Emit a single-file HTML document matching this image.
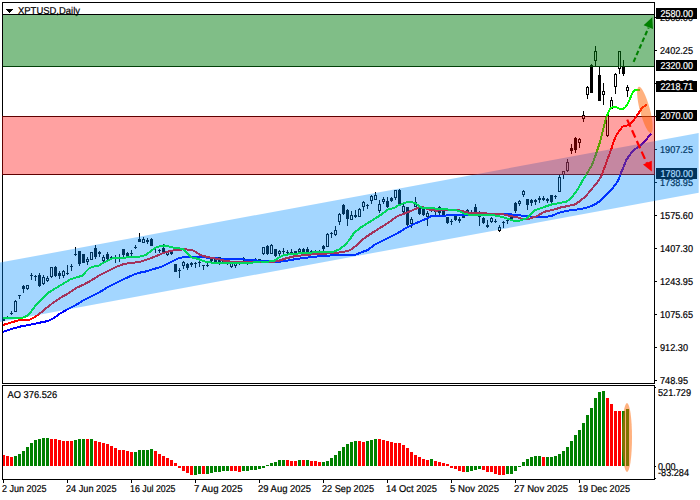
<!DOCTYPE html>
<html><head><meta charset="utf-8"><title>XPTUSD Daily</title>
<style>html,body{margin:0;padding:0;background:#fff;overflow:hidden}svg{display:block}text{font-family:"Liberation Sans",sans-serif;font-size:10px;text-rendering:geometricPrecision}</style>
</head><body>
<svg width="700" height="500" viewBox="0 0 700 500">
<defs><clipPath id="cm"><rect x="3" y="3" width="651" height="380"/></clipPath><clipPath id="ca"><rect x="3" y="386" width="651" height="93"/></clipPath></defs>
<rect width="700" height="500" fill="#fff"/>
<g shape-rendering="crispEdges" fill="#000">
<rect x="2" y="2" width="653" height="1"/>
<rect x="2" y="2" width="1" height="382"/>
<rect x="2" y="383" width="653" height="1"/>
<rect x="654" y="2" width="1" height="382"/>
<rect x="654" y="385" width="1" height="95"/>
<rect x="2" y="385" width="653" height="1"/>
<rect x="2" y="385" width="1" height="95"/>
<rect x="2" y="479" width="653" height="1"/>
<rect x="655" y="50" width="2" height="1"/>
<rect x="655" y="149" width="2" height="1"/>
<rect x="655" y="182" width="2" height="1"/>
<rect x="655" y="215" width="2" height="1"/>
<rect x="655" y="248" width="2" height="1"/>
<rect x="655" y="281" width="2" height="1"/>
<rect x="655" y="314" width="2" height="1"/>
<rect x="655" y="347" width="2" height="1"/>
<rect x="655" y="380" width="2" height="1"/>
<rect x="655" y="17" width="2" height="1"/>
<rect x="655" y="83" width="2" height="1"/>
<rect x="655" y="116" width="2" height="1"/>
<rect x="655" y="387" width="1" height="1"/>
<rect x="655" y="466" width="1" height="1"/>
<rect x="655" y="478" width="1" height="1"/>
<rect x="3" y="480" width="1" height="3"/>
<rect x="67" y="480" width="1" height="3"/>
<rect x="131" y="480" width="1" height="3"/>
<rect x="195" y="480" width="1" height="3"/>
<rect x="259" y="480" width="1" height="3"/>
<rect x="323" y="480" width="1" height="3"/>
<rect x="387" y="480" width="1" height="3"/>
<rect x="451" y="480" width="1" height="3"/>
<rect x="515" y="480" width="1" height="3"/>
<rect x="579" y="480" width="1" height="3"/>
</g>
<g>
<path d="M6 9h7v1h-1v1h-1v1h-1v1h-1v-1h-1v-1h-1v-1h-1z" fill="#000" shape-rendering="crispEdges"/>
<text x="18" y="14" textLength="62" lengthAdjust="spacingAndGlyphs" fill="#000" stroke="#000" stroke-width="0.2">XPTUSD,Daily</text>
<text x="7.6" y="398" textLength="49.6" lengthAdjust="spacingAndGlyphs" fill="#000" stroke="#000" stroke-width="0.2">AO 376.526</text>
<text x="660" y="54" textLength="33" lengthAdjust="spacingAndGlyphs" fill="#000" stroke="#000" stroke-width="0.2">2402.25</text>
<text x="660" y="153" textLength="33" lengthAdjust="spacingAndGlyphs" fill="#000" stroke="#000" stroke-width="0.2">1907.25</text>
<text x="660" y="186" textLength="33" lengthAdjust="spacingAndGlyphs" fill="#000" stroke="#000" stroke-width="0.2">1738.95</text>
<text x="660" y="219" textLength="33" lengthAdjust="spacingAndGlyphs" fill="#000" stroke="#000" stroke-width="0.2">1575.60</text>
<text x="660" y="252" textLength="33" lengthAdjust="spacingAndGlyphs" fill="#000" stroke="#000" stroke-width="0.2">1407.30</text>
<text x="660" y="285" textLength="33" lengthAdjust="spacingAndGlyphs" fill="#000" stroke="#000" stroke-width="0.2">1243.95</text>
<text x="660" y="318" textLength="33" lengthAdjust="spacingAndGlyphs" fill="#000" stroke="#000" stroke-width="0.2">1075.65</text>
<text x="660" y="351" textLength="28" lengthAdjust="spacingAndGlyphs" fill="#000" stroke="#000" stroke-width="0.2">912.30</text>
<text x="660" y="384" textLength="28" lengthAdjust="spacingAndGlyphs" fill="#000" stroke="#000" stroke-width="0.2">748.95</text>
<text x="660" y="21" textLength="33" lengthAdjust="spacingAndGlyphs" fill="#000" stroke="#000" stroke-width="0.2">2565.60</text>
<text x="660" y="87" textLength="33" lengthAdjust="spacingAndGlyphs" fill="#000" stroke="#000" stroke-width="0.2">2233.95</text>
<text x="658" y="396" textLength="33" lengthAdjust="spacingAndGlyphs" fill="#000" stroke="#000" stroke-width="0.2">521.729</text>
<text x="658" y="469.5" textLength="17.5" lengthAdjust="spacingAndGlyphs" fill="#000" stroke="#000" stroke-width="0.2">0.00</text>
<text x="658" y="476" textLength="31" lengthAdjust="spacingAndGlyphs" fill="#000" stroke="#000" stroke-width="0.2">-83.284</text>
<text x="2" y="492" textLength="44.5" lengthAdjust="spacingAndGlyphs" fill="#000" stroke="#000" stroke-width="0.2">2 Jun 2025</text>
<text x="66" y="492" textLength="50.5" lengthAdjust="spacingAndGlyphs" fill="#000" stroke="#000" stroke-width="0.2">24 Jun 2025</text>
<text x="130" y="492" textLength="45.5" lengthAdjust="spacingAndGlyphs" fill="#000" stroke="#000" stroke-width="0.2">16 Jul 2025</text>
<text x="194" y="492" textLength="48.5" lengthAdjust="spacingAndGlyphs" fill="#000" stroke="#000" stroke-width="0.2">7 Aug 2025</text>
<text x="258" y="492" textLength="53" lengthAdjust="spacingAndGlyphs" fill="#000" stroke="#000" stroke-width="0.2">29 Aug 2025</text>
<text x="322" y="492" textLength="52" lengthAdjust="spacingAndGlyphs" fill="#000" stroke="#000" stroke-width="0.2">22 Sep 2025</text>
<text x="386" y="492" textLength="51" lengthAdjust="spacingAndGlyphs" fill="#000" stroke="#000" stroke-width="0.2">14 Oct 2025</text>
<text x="450" y="492" textLength="49" lengthAdjust="spacingAndGlyphs" fill="#000" stroke="#000" stroke-width="0.2">5 Nov 2025</text>
<text x="514" y="492" textLength="54" lengthAdjust="spacingAndGlyphs" fill="#000" stroke="#000" stroke-width="0.2">27 Nov 2025</text>
<text x="578" y="492" textLength="52" lengthAdjust="spacingAndGlyphs" fill="#000" stroke="#000" stroke-width="0.2">19 Dec 2025</text>
</g>
<g shape-rendering="crispEdges">
<rect x="656" y="8" width="41" height="11" fill="#000"/>
<rect x="656" y="60" width="41" height="11" fill="#000"/>
<rect x="656" y="81" width="41" height="11" fill="#000"/>
<rect x="656" y="110" width="41" height="11" fill="#000"/>
<rect x="656" y="168" width="41" height="11" fill="#000"/>
</g>
<text x="660.5" y="17" textLength="32.5" lengthAdjust="spacingAndGlyphs" fill="#fff" stroke="#fff" stroke-width="0.2">2580.00</text>
<text x="660.5" y="69" textLength="32.5" lengthAdjust="spacingAndGlyphs" fill="#fff" stroke="#fff" stroke-width="0.2">2320.00</text>
<text x="660.5" y="90" textLength="32.5" lengthAdjust="spacingAndGlyphs" fill="#fff" stroke="#fff" stroke-width="0.2">2218.71</text>
<text x="660.5" y="119" textLength="32.5" lengthAdjust="spacingAndGlyphs" fill="#fff" stroke="#fff" stroke-width="0.2">2070.00</text>
<text x="660.5" y="177" textLength="32.5" lengthAdjust="spacingAndGlyphs" fill="#fff" stroke="#fff" stroke-width="0.2">1780.00</text>
<g shape-rendering="crispEdges" clip-path="url(#ca)">
<rect x="2" y="455" width="3" height="11" fill="#ff0000"/>
<rect x="6" y="456" width="3" height="10" fill="#ff0000"/>
<rect x="10" y="457" width="3" height="9" fill="#ff0000"/>
<rect x="14" y="456" width="3" height="10" fill="#008000"/>
<rect x="18" y="454" width="3" height="12" fill="#008000"/>
<rect x="22" y="451" width="3" height="15" fill="#008000"/>
<rect x="26" y="447" width="3" height="19" fill="#008000"/>
<rect x="30" y="443" width="3" height="23" fill="#008000"/>
<rect x="34" y="440" width="3" height="26" fill="#008000"/>
<rect x="38" y="439" width="3" height="27" fill="#008000"/>
<rect x="42" y="438" width="3" height="28" fill="#008000"/>
<rect x="46" y="438" width="3" height="28" fill="#008000"/>
<rect x="50" y="439" width="3" height="27" fill="#ff0000"/>
<rect x="54" y="439" width="3" height="27" fill="#ff0000"/>
<rect x="58" y="440" width="3" height="26" fill="#ff0000"/>
<rect x="62" y="441" width="3" height="25" fill="#ff0000"/>
<rect x="66" y="441" width="3" height="25" fill="#ff0000"/>
<rect x="70" y="441" width="3" height="25" fill="#ff0000"/>
<rect x="74" y="440" width="3" height="26" fill="#008000"/>
<rect x="78" y="439" width="3" height="27" fill="#008000"/>
<rect x="82" y="439" width="3" height="27" fill="#008000"/>
<rect x="86" y="439" width="3" height="27" fill="#ff0000"/>
<rect x="90" y="439" width="3" height="27" fill="#008000"/>
<rect x="94" y="441" width="3" height="25" fill="#ff0000"/>
<rect x="98" y="442" width="3" height="24" fill="#ff0000"/>
<rect x="102" y="443" width="3" height="23" fill="#ff0000"/>
<rect x="106" y="444" width="3" height="22" fill="#ff0000"/>
<rect x="110" y="446" width="3" height="20" fill="#ff0000"/>
<rect x="114" y="448" width="3" height="18" fill="#ff0000"/>
<rect x="118" y="450" width="3" height="16" fill="#ff0000"/>
<rect x="122" y="450" width="3" height="16" fill="#ff0000"/>
<rect x="126" y="451" width="3" height="15" fill="#ff0000"/>
<rect x="130" y="452" width="3" height="14" fill="#ff0000"/>
<rect x="134" y="452" width="3" height="14" fill="#008000"/>
<rect x="138" y="450" width="3" height="16" fill="#008000"/>
<rect x="142" y="450" width="3" height="16" fill="#008000"/>
<rect x="146" y="450" width="3" height="16" fill="#008000"/>
<rect x="150" y="449" width="3" height="17" fill="#008000"/>
<rect x="154" y="451" width="3" height="15" fill="#ff0000"/>
<rect x="158" y="454" width="3" height="12" fill="#ff0000"/>
<rect x="162" y="456" width="3" height="10" fill="#ff0000"/>
<rect x="166" y="458" width="3" height="8" fill="#ff0000"/>
<rect x="170" y="460" width="3" height="6" fill="#ff0000"/>
<rect x="174" y="463" width="3" height="3" fill="#ff0000"/>
<rect x="178" y="466" width="3" height="2" fill="#ff0000"/>
<rect x="182" y="466" width="3" height="5" fill="#ff0000"/>
<rect x="186" y="466" width="3" height="7" fill="#ff0000"/>
<rect x="190" y="466" width="3" height="9" fill="#ff0000"/>
<rect x="194" y="466" width="3" height="9" fill="#008000"/>
<rect x="198" y="466" width="3" height="8" fill="#008000"/>
<rect x="202" y="466" width="3" height="8" fill="#ff0000"/>
<rect x="206" y="466" width="3" height="8" fill="#008000"/>
<rect x="210" y="466" width="3" height="7" fill="#008000"/>
<rect x="214" y="466" width="3" height="6" fill="#008000"/>
<rect x="218" y="466" width="3" height="6" fill="#008000"/>
<rect x="222" y="466" width="3" height="5" fill="#008000"/>
<rect x="226" y="466" width="3" height="5" fill="#008000"/>
<rect x="230" y="466" width="3" height="5" fill="#ff0000"/>
<rect x="234" y="466" width="3" height="5" fill="#ff0000"/>
<rect x="238" y="466" width="3" height="6" fill="#ff0000"/>
<rect x="242" y="466" width="3" height="5" fill="#008000"/>
<rect x="246" y="466" width="3" height="5" fill="#008000"/>
<rect x="250" y="466" width="3" height="4" fill="#008000"/>
<rect x="254" y="466" width="3" height="4" fill="#008000"/>
<rect x="258" y="466" width="3" height="3" fill="#008000"/>
<rect x="262" y="466" width="3" height="2" fill="#008000"/>
<rect x="266" y="465" width="3" height="1" fill="#008000"/>
<rect x="270" y="463" width="3" height="3" fill="#008000"/>
<rect x="274" y="462" width="3" height="4" fill="#008000"/>
<rect x="278" y="460" width="3" height="6" fill="#008000"/>
<rect x="282" y="460" width="3" height="6" fill="#008000"/>
<rect x="286" y="460" width="3" height="6" fill="#ff0000"/>
<rect x="290" y="461" width="3" height="5" fill="#ff0000"/>
<rect x="294" y="461" width="3" height="5" fill="#ff0000"/>
<rect x="298" y="460" width="3" height="6" fill="#008000"/>
<rect x="302" y="460" width="3" height="6" fill="#ff0000"/>
<rect x="306" y="460" width="3" height="6" fill="#008000"/>
<rect x="310" y="461" width="3" height="5" fill="#ff0000"/>
<rect x="314" y="461" width="3" height="5" fill="#ff0000"/>
<rect x="318" y="462" width="3" height="4" fill="#ff0000"/>
<rect x="322" y="462" width="3" height="4" fill="#008000"/>
<rect x="326" y="461" width="3" height="5" fill="#008000"/>
<rect x="330" y="458" width="3" height="8" fill="#008000"/>
<rect x="334" y="455" width="3" height="11" fill="#008000"/>
<rect x="338" y="451" width="3" height="15" fill="#008000"/>
<rect x="342" y="447" width="3" height="19" fill="#008000"/>
<rect x="346" y="444" width="3" height="22" fill="#008000"/>
<rect x="350" y="442" width="3" height="24" fill="#008000"/>
<rect x="354" y="441" width="3" height="25" fill="#008000"/>
<rect x="358" y="441" width="3" height="25" fill="#ff0000"/>
<rect x="362" y="442" width="3" height="24" fill="#ff0000"/>
<rect x="366" y="441" width="3" height="25" fill="#008000"/>
<rect x="370" y="440" width="3" height="26" fill="#008000"/>
<rect x="374" y="439" width="3" height="27" fill="#008000"/>
<rect x="378" y="439" width="3" height="27" fill="#ff0000"/>
<rect x="382" y="440" width="3" height="26" fill="#ff0000"/>
<rect x="386" y="441" width="3" height="25" fill="#ff0000"/>
<rect x="390" y="442" width="3" height="24" fill="#ff0000"/>
<rect x="394" y="443" width="3" height="23" fill="#ff0000"/>
<rect x="398" y="443" width="3" height="23" fill="#ff0000"/>
<rect x="402" y="445" width="3" height="21" fill="#ff0000"/>
<rect x="406" y="448" width="3" height="18" fill="#ff0000"/>
<rect x="410" y="452" width="3" height="14" fill="#ff0000"/>
<rect x="414" y="455" width="3" height="11" fill="#ff0000"/>
<rect x="418" y="457" width="3" height="9" fill="#ff0000"/>
<rect x="422" y="459" width="3" height="7" fill="#ff0000"/>
<rect x="426" y="460" width="3" height="6" fill="#ff0000"/>
<rect x="430" y="459" width="3" height="7" fill="#008000"/>
<rect x="434" y="461" width="3" height="5" fill="#ff0000"/>
<rect x="438" y="462" width="3" height="4" fill="#ff0000"/>
<rect x="442" y="463" width="3" height="3" fill="#ff0000"/>
<rect x="446" y="464" width="3" height="2" fill="#ff0000"/>
<rect x="450" y="466" width="3" height="2" fill="#ff0000"/>
<rect x="454" y="466" width="3" height="3" fill="#ff0000"/>
<rect x="458" y="466" width="3" height="5" fill="#ff0000"/>
<rect x="462" y="466" width="3" height="6" fill="#ff0000"/>
<rect x="466" y="466" width="3" height="6" fill="#008000"/>
<rect x="470" y="466" width="3" height="5" fill="#008000"/>
<rect x="474" y="466" width="3" height="4" fill="#008000"/>
<rect x="478" y="466" width="3" height="3" fill="#008000"/>
<rect x="482" y="466" width="3" height="4" fill="#ff0000"/>
<rect x="486" y="466" width="3" height="6" fill="#ff0000"/>
<rect x="490" y="466" width="3" height="6" fill="#ff0000"/>
<rect x="494" y="466" width="3" height="8" fill="#ff0000"/>
<rect x="498" y="466" width="3" height="9" fill="#ff0000"/>
<rect x="502" y="466" width="3" height="9" fill="#ff0000"/>
<rect x="506" y="466" width="3" height="8" fill="#008000"/>
<rect x="510" y="466" width="3" height="8" fill="#008000"/>
<rect x="514" y="466" width="3" height="5" fill="#008000"/>
<rect x="518" y="466" width="3" height="1" fill="#008000"/>
<rect x="522" y="462" width="3" height="4" fill="#008000"/>
<rect x="526" y="459" width="3" height="7" fill="#008000"/>
<rect x="530" y="457" width="3" height="9" fill="#008000"/>
<rect x="534" y="456" width="3" height="10" fill="#008000"/>
<rect x="538" y="456" width="3" height="10" fill="#008000"/>
<rect x="542" y="457" width="3" height="9" fill="#ff0000"/>
<rect x="546" y="457" width="3" height="9" fill="#008000"/>
<rect x="550" y="457" width="3" height="9" fill="#008000"/>
<rect x="554" y="456" width="3" height="10" fill="#008000"/>
<rect x="558" y="454" width="3" height="12" fill="#008000"/>
<rect x="562" y="451" width="3" height="15" fill="#008000"/>
<rect x="566" y="447" width="3" height="19" fill="#008000"/>
<rect x="570" y="441" width="3" height="25" fill="#008000"/>
<rect x="574" y="435" width="3" height="31" fill="#008000"/>
<rect x="578" y="430" width="3" height="36" fill="#008000"/>
<rect x="582" y="423" width="3" height="43" fill="#008000"/>
<rect x="586" y="415" width="3" height="51" fill="#008000"/>
<rect x="590" y="408" width="3" height="58" fill="#008000"/>
<rect x="594" y="398" width="3" height="68" fill="#008000"/>
<rect x="598" y="392" width="3" height="74" fill="#008000"/>
<rect x="602" y="391" width="3" height="75" fill="#008000"/>
<rect x="606" y="398" width="3" height="68" fill="#ff0000"/>
<rect x="610" y="404" width="3" height="62" fill="#ff0000"/>
<rect x="614" y="411" width="3" height="55" fill="#ff0000"/>
<rect x="618" y="411" width="3" height="55" fill="#ff0000"/>
<rect x="622" y="411" width="3" height="55" fill="#008000"/>
<rect x="626" y="409" width="3" height="57" fill="#008000"/>
</g>
<g clip-path="url(#cm)">
<g shape-rendering="crispEdges" fill="#000">
<rect x="2" y="14" width="653" height="1"/>
<rect x="2" y="66" width="653" height="1"/>
<rect x="2" y="116" width="653" height="1"/>
<rect x="2" y="174" width="653" height="1"/>
</g>
<g shape-rendering="crispEdges">
<rect x="3" y="318" width="1" height="3" fill="#000"/>
<rect x="2" y="318" width="3" height="3" fill="#000"/>
<rect x="7" y="316" width="1" height="3" fill="#000"/>
<rect x="6" y="317" width="3" height="2" fill="#000"/>
<rect x="11" y="311" width="1" height="4" fill="#000"/>
<rect x="10" y="313" width="3" height="1" fill="#000"/>
<rect x="15" y="300" width="1" height="12" fill="#000"/>
<rect x="14" y="301" width="3" height="11" fill="#000"/>
<rect x="15" y="302" width="1" height="9" fill="#fff"/>
<rect x="19" y="295" width="1" height="4" fill="#000"/>
<rect x="18" y="295" width="3" height="1" fill="#000"/>
<rect x="23" y="285" width="1" height="8" fill="#000"/>
<rect x="22" y="286" width="3" height="3" fill="#000"/>
<rect x="27" y="285" width="1" height="5" fill="#000"/>
<rect x="26" y="285" width="3" height="4" fill="#000"/>
<rect x="27" y="286" width="1" height="2" fill="#fff"/>
<rect x="31" y="273" width="1" height="7" fill="#000"/>
<rect x="30" y="275" width="3" height="1" fill="#000"/>
<rect x="35" y="275" width="1" height="6" fill="#000"/>
<rect x="34" y="276" width="3" height="1" fill="#000"/>
<rect x="39" y="273" width="1" height="14" fill="#000"/>
<rect x="38" y="275" width="3" height="11" fill="#000"/>
<rect x="43" y="275" width="1" height="10" fill="#000"/>
<rect x="42" y="277" width="3" height="7" fill="#000"/>
<rect x="43" y="278" width="1" height="5" fill="#fff"/>
<rect x="47" y="276" width="1" height="6" fill="#000"/>
<rect x="46" y="278" width="3" height="3" fill="#000"/>
<rect x="47" y="279" width="1" height="1" fill="#fff"/>
<rect x="51" y="267" width="1" height="11" fill="#000"/>
<rect x="50" y="267" width="3" height="10" fill="#000"/>
<rect x="51" y="268" width="1" height="8" fill="#fff"/>
<rect x="55" y="266" width="1" height="11" fill="#000"/>
<rect x="54" y="267" width="3" height="9" fill="#000"/>
<rect x="59" y="271" width="1" height="8" fill="#000"/>
<rect x="58" y="273" width="3" height="3" fill="#000"/>
<rect x="63" y="270" width="1" height="8" fill="#000"/>
<rect x="62" y="271" width="3" height="5" fill="#000"/>
<rect x="63" y="272" width="1" height="3" fill="#fff"/>
<rect x="67" y="265" width="1" height="10" fill="#000"/>
<rect x="66" y="273" width="3" height="1" fill="#000"/>
<rect x="71" y="264" width="1" height="7" fill="#000"/>
<rect x="70" y="266" width="3" height="1" fill="#000"/>
<rect x="75" y="247" width="1" height="9" fill="#000"/>
<rect x="74" y="254" width="3" height="1" fill="#000"/>
<rect x="79" y="251" width="1" height="15" fill="#000"/>
<rect x="78" y="251" width="3" height="13" fill="#000"/>
<rect x="83" y="254" width="1" height="9" fill="#000"/>
<rect x="82" y="254" width="3" height="9" fill="#000"/>
<rect x="87" y="257" width="1" height="8" fill="#000"/>
<rect x="86" y="259" width="3" height="3" fill="#000"/>
<rect x="87" y="260" width="1" height="1" fill="#fff"/>
<rect x="91" y="252" width="1" height="8" fill="#000"/>
<rect x="90" y="252" width="3" height="8" fill="#000"/>
<rect x="91" y="253" width="1" height="6" fill="#fff"/>
<rect x="95" y="245" width="1" height="14" fill="#000"/>
<rect x="94" y="248" width="3" height="9" fill="#000"/>
<rect x="99" y="251" width="1" height="6" fill="#000"/>
<rect x="98" y="252" width="3" height="2" fill="#000"/>
<rect x="103" y="255" width="1" height="7" fill="#000"/>
<rect x="102" y="257" width="3" height="4" fill="#000"/>
<rect x="103" y="258" width="1" height="2" fill="#fff"/>
<rect x="107" y="252" width="1" height="9" fill="#000"/>
<rect x="106" y="254" width="3" height="5" fill="#000"/>
<rect x="111" y="256" width="1" height="4" fill="#000"/>
<rect x="110" y="257" width="3" height="1" fill="#000"/>
<rect x="115" y="255" width="1" height="8" fill="#000"/>
<rect x="114" y="258" width="3" height="1" fill="#000"/>
<rect x="119" y="254" width="1" height="8" fill="#000"/>
<rect x="118" y="257" width="3" height="1" fill="#000"/>
<rect x="123" y="249" width="1" height="9" fill="#000"/>
<rect x="122" y="249" width="3" height="6" fill="#000"/>
<rect x="127" y="252" width="1" height="6" fill="#000"/>
<rect x="126" y="253" width="3" height="3" fill="#000"/>
<rect x="131" y="250" width="1" height="6" fill="#000"/>
<rect x="130" y="253" width="3" height="1" fill="#000"/>
<rect x="135" y="245" width="1" height="4" fill="#000"/>
<rect x="134" y="247" width="3" height="1" fill="#000"/>
<rect x="139" y="233" width="1" height="9" fill="#000"/>
<rect x="138" y="239" width="3" height="3" fill="#000"/>
<rect x="143" y="237" width="1" height="6" fill="#000"/>
<rect x="142" y="239" width="3" height="4" fill="#000"/>
<rect x="143" y="240" width="1" height="2" fill="#fff"/>
<rect x="147" y="238" width="1" height="6" fill="#000"/>
<rect x="146" y="240" width="3" height="2" fill="#000"/>
<rect x="151" y="238" width="1" height="8" fill="#000"/>
<rect x="150" y="239" width="3" height="7" fill="#000"/>
<rect x="155" y="247" width="1" height="6" fill="#000"/>
<rect x="159" y="249" width="1" height="4" fill="#000"/>
<rect x="158" y="250" width="3" height="1" fill="#000"/>
<rect x="163" y="244" width="1" height="9" fill="#000"/>
<rect x="162" y="248" width="3" height="5" fill="#000"/>
<rect x="167" y="251" width="1" height="5" fill="#000"/>
<rect x="166" y="252" width="3" height="3" fill="#000"/>
<rect x="167" y="253" width="1" height="1" fill="#fff"/>
<rect x="171" y="250" width="1" height="5" fill="#000"/>
<rect x="170" y="252" width="3" height="2" fill="#000"/>
<rect x="175" y="264" width="1" height="8" fill="#000"/>
<rect x="174" y="264" width="3" height="8" fill="#000"/>
<rect x="179" y="268" width="1" height="10" fill="#000"/>
<rect x="178" y="270" width="3" height="1" fill="#000"/>
<rect x="183" y="261" width="1" height="8" fill="#000"/>
<rect x="182" y="262" width="3" height="4" fill="#000"/>
<rect x="183" y="263" width="1" height="2" fill="#fff"/>
<rect x="187" y="263" width="1" height="7" fill="#000"/>
<rect x="186" y="264" width="3" height="4" fill="#000"/>
<rect x="191" y="262" width="1" height="5" fill="#000"/>
<rect x="190" y="263" width="3" height="2" fill="#000"/>
<rect x="195" y="262" width="1" height="6" fill="#000"/>
<rect x="194" y="263" width="3" height="1" fill="#000"/>
<rect x="199" y="261" width="1" height="6" fill="#000"/>
<rect x="198" y="262" width="3" height="1" fill="#000"/>
<rect x="203" y="265" width="1" height="5" fill="#000"/>
<rect x="202" y="265" width="3" height="1" fill="#000"/>
<rect x="207" y="263" width="1" height="4" fill="#000"/>
<rect x="206" y="265" width="3" height="1" fill="#000"/>
<rect x="211" y="259" width="1" height="3" fill="#000"/>
<rect x="210" y="259" width="3" height="2" fill="#000"/>
<rect x="215" y="258" width="1" height="4" fill="#000"/>
<rect x="214" y="258" width="3" height="4" fill="#000"/>
<rect x="219" y="257" width="1" height="8" fill="#000"/>
<rect x="218" y="257" width="3" height="6" fill="#000"/>
<rect x="223" y="261" width="1" height="3" fill="#000"/>
<rect x="222" y="261" width="3" height="3" fill="#000"/>
<rect x="227" y="262" width="1" height="3" fill="#000"/>
<rect x="226" y="262" width="3" height="2" fill="#000"/>
<rect x="231" y="263" width="1" height="5" fill="#000"/>
<rect x="230" y="263" width="3" height="4" fill="#000"/>
<rect x="231" y="264" width="1" height="2" fill="#fff"/>
<rect x="235" y="262" width="1" height="6" fill="#000"/>
<rect x="234" y="263" width="3" height="3" fill="#000"/>
<rect x="235" y="264" width="1" height="1" fill="#fff"/>
<rect x="239" y="262" width="1" height="3" fill="#000"/>
<rect x="238" y="263" width="3" height="1" fill="#000"/>
<rect x="243" y="257" width="1" height="4" fill="#000"/>
<rect x="242" y="258" width="3" height="2" fill="#000"/>
<rect x="247" y="261" width="1" height="4" fill="#000"/>
<rect x="246" y="261" width="3" height="2" fill="#000"/>
<rect x="251" y="259" width="1" height="3" fill="#000"/>
<rect x="250" y="260" width="3" height="1" fill="#000"/>
<rect x="255" y="258" width="1" height="3" fill="#000"/>
<rect x="254" y="259" width="3" height="1" fill="#000"/>
<rect x="259" y="259" width="1" height="1" fill="#000"/>
<rect x="258" y="259" width="3" height="1" fill="#000"/>
<rect x="263" y="247" width="1" height="8" fill="#000"/>
<rect x="262" y="247" width="3" height="7" fill="#000"/>
<rect x="263" y="248" width="1" height="5" fill="#fff"/>
<rect x="267" y="245" width="1" height="10" fill="#000"/>
<rect x="266" y="246" width="3" height="8" fill="#000"/>
<rect x="271" y="244" width="1" height="10" fill="#000"/>
<rect x="270" y="245" width="3" height="9" fill="#000"/>
<rect x="271" y="246" width="1" height="7" fill="#fff"/>
<rect x="275" y="249" width="1" height="8" fill="#000"/>
<rect x="274" y="249" width="3" height="7" fill="#000"/>
<rect x="279" y="250" width="1" height="6" fill="#000"/>
<rect x="278" y="251" width="3" height="3" fill="#000"/>
<rect x="279" y="252" width="1" height="1" fill="#fff"/>
<rect x="283" y="248" width="1" height="6" fill="#000"/>
<rect x="282" y="251" width="3" height="1" fill="#000"/>
<rect x="287" y="250" width="1" height="4" fill="#000"/>
<rect x="286" y="252" width="3" height="1" fill="#000"/>
<rect x="291" y="249" width="1" height="4" fill="#000"/>
<rect x="290" y="252" width="3" height="1" fill="#000"/>
<rect x="295" y="251" width="1" height="3" fill="#000"/>
<rect x="294" y="251" width="3" height="2" fill="#000"/>
<rect x="299" y="248" width="1" height="5" fill="#000"/>
<rect x="298" y="249" width="3" height="3" fill="#000"/>
<rect x="299" y="250" width="1" height="1" fill="#fff"/>
<rect x="303" y="248" width="1" height="5" fill="#000"/>
<rect x="302" y="249" width="3" height="3" fill="#000"/>
<rect x="307" y="247" width="1" height="6" fill="#000"/>
<rect x="306" y="249" width="3" height="3" fill="#000"/>
<rect x="311" y="250" width="1" height="3" fill="#000"/>
<rect x="310" y="251" width="3" height="1" fill="#000"/>
<rect x="315" y="250" width="1" height="3" fill="#000"/>
<rect x="314" y="251" width="3" height="1" fill="#000"/>
<rect x="319" y="250" width="1" height="2" fill="#000"/>
<rect x="318" y="251" width="3" height="1" fill="#000"/>
<rect x="323" y="245" width="1" height="6" fill="#000"/>
<rect x="322" y="246" width="3" height="3" fill="#000"/>
<rect x="327" y="233" width="1" height="14" fill="#000"/>
<rect x="326" y="234" width="3" height="13" fill="#000"/>
<rect x="327" y="235" width="1" height="11" fill="#fff"/>
<rect x="331" y="232" width="1" height="6" fill="#000"/>
<rect x="330" y="233" width="3" height="1" fill="#000"/>
<rect x="335" y="226" width="1" height="10" fill="#000"/>
<rect x="334" y="230" width="3" height="5" fill="#000"/>
<rect x="335" y="231" width="1" height="3" fill="#fff"/>
<rect x="339" y="213" width="1" height="12" fill="#000"/>
<rect x="338" y="214" width="3" height="8" fill="#000"/>
<rect x="339" y="215" width="1" height="6" fill="#fff"/>
<rect x="343" y="204" width="1" height="11" fill="#000"/>
<rect x="342" y="205" width="3" height="9" fill="#000"/>
<rect x="347" y="209" width="1" height="17" fill="#000"/>
<rect x="346" y="210" width="3" height="9" fill="#000"/>
<rect x="351" y="211" width="1" height="9" fill="#000"/>
<rect x="350" y="215" width="3" height="5" fill="#000"/>
<rect x="351" y="216" width="1" height="3" fill="#fff"/>
<rect x="355" y="210" width="1" height="8" fill="#000"/>
<rect x="354" y="215" width="3" height="2" fill="#000"/>
<rect x="359" y="208" width="1" height="9" fill="#000"/>
<rect x="358" y="209" width="3" height="8" fill="#000"/>
<rect x="359" y="210" width="1" height="6" fill="#fff"/>
<rect x="363" y="201" width="1" height="10" fill="#000"/>
<rect x="362" y="202" width="3" height="5" fill="#000"/>
<rect x="363" y="203" width="1" height="3" fill="#fff"/>
<rect x="367" y="204" width="1" height="5" fill="#000"/>
<rect x="366" y="205" width="3" height="1" fill="#000"/>
<rect x="371" y="195" width="1" height="9" fill="#000"/>
<rect x="370" y="196" width="3" height="5" fill="#000"/>
<rect x="371" y="197" width="1" height="3" fill="#fff"/>
<rect x="375" y="192" width="1" height="8" fill="#000"/>
<rect x="374" y="195" width="3" height="5" fill="#000"/>
<rect x="375" y="196" width="1" height="3" fill="#fff"/>
<rect x="379" y="200" width="1" height="13" fill="#000"/>
<rect x="378" y="204" width="3" height="7" fill="#000"/>
<rect x="379" y="205" width="1" height="5" fill="#fff"/>
<rect x="383" y="197" width="1" height="7" fill="#000"/>
<rect x="382" y="199" width="3" height="3" fill="#000"/>
<rect x="383" y="200" width="1" height="1" fill="#fff"/>
<rect x="387" y="197" width="1" height="11" fill="#000"/>
<rect x="386" y="201" width="3" height="6" fill="#000"/>
<rect x="391" y="197" width="1" height="5" fill="#000"/>
<rect x="390" y="198" width="3" height="3" fill="#000"/>
<rect x="395" y="190" width="1" height="10" fill="#000"/>
<rect x="394" y="190" width="3" height="8" fill="#000"/>
<rect x="395" y="191" width="1" height="6" fill="#fff"/>
<rect x="399" y="189" width="1" height="17" fill="#000"/>
<rect x="398" y="190" width="3" height="16" fill="#000"/>
<rect x="403" y="203" width="1" height="10" fill="#000"/>
<rect x="402" y="206" width="3" height="6" fill="#000"/>
<rect x="403" y="207" width="1" height="4" fill="#fff"/>
<rect x="407" y="207" width="1" height="19" fill="#000"/>
<rect x="406" y="207" width="3" height="18" fill="#000"/>
<rect x="411" y="217" width="1" height="11" fill="#000"/>
<rect x="410" y="219" width="3" height="5" fill="#000"/>
<rect x="411" y="220" width="1" height="3" fill="#fff"/>
<rect x="415" y="197" width="1" height="10" fill="#000"/>
<rect x="414" y="202" width="3" height="5" fill="#000"/>
<rect x="415" y="203" width="1" height="3" fill="#fff"/>
<rect x="419" y="207" width="1" height="8" fill="#000"/>
<rect x="418" y="207" width="3" height="7" fill="#000"/>
<rect x="423" y="206" width="1" height="10" fill="#000"/>
<rect x="422" y="207" width="3" height="8" fill="#000"/>
<rect x="427" y="211" width="1" height="15" fill="#000"/>
<rect x="426" y="213" width="3" height="4" fill="#000"/>
<rect x="427" y="214" width="1" height="2" fill="#fff"/>
<rect x="431" y="207" width="1" height="5" fill="#000"/>
<rect x="430" y="208" width="3" height="2" fill="#000"/>
<rect x="435" y="208" width="1" height="7" fill="#000"/>
<rect x="434" y="209" width="3" height="3" fill="#000"/>
<rect x="439" y="206" width="1" height="9" fill="#000"/>
<rect x="438" y="207" width="3" height="6" fill="#000"/>
<rect x="443" y="209" width="1" height="7" fill="#000"/>
<rect x="442" y="210" width="3" height="5" fill="#000"/>
<rect x="447" y="217" width="1" height="7" fill="#000"/>
<rect x="446" y="217" width="3" height="6" fill="#000"/>
<rect x="451" y="219" width="1" height="6" fill="#000"/>
<rect x="450" y="221" width="3" height="1" fill="#000"/>
<rect x="455" y="216" width="1" height="5" fill="#000"/>
<rect x="454" y="216" width="3" height="4" fill="#000"/>
<rect x="459" y="217" width="1" height="6" fill="#000"/>
<rect x="458" y="219" width="3" height="2" fill="#000"/>
<rect x="463" y="214" width="1" height="4" fill="#000"/>
<rect x="462" y="215" width="3" height="3" fill="#000"/>
<rect x="467" y="209" width="1" height="4" fill="#000"/>
<rect x="466" y="210" width="3" height="2" fill="#000"/>
<rect x="471" y="210" width="1" height="3" fill="#000"/>
<rect x="470" y="212" width="3" height="1" fill="#000"/>
<rect x="475" y="204" width="1" height="9" fill="#000"/>
<rect x="474" y="207" width="3" height="6" fill="#000"/>
<rect x="479" y="211" width="1" height="15" fill="#000"/>
<rect x="478" y="212" width="3" height="5" fill="#000"/>
<rect x="483" y="217" width="1" height="7" fill="#000"/>
<rect x="482" y="218" width="3" height="5" fill="#000"/>
<rect x="487" y="220" width="1" height="8" fill="#000"/>
<rect x="486" y="225" width="3" height="2" fill="#000"/>
<rect x="491" y="217" width="1" height="6" fill="#000"/>
<rect x="490" y="218" width="3" height="4" fill="#000"/>
<rect x="491" y="219" width="1" height="2" fill="#fff"/>
<rect x="495" y="219" width="1" height="4" fill="#000"/>
<rect x="494" y="221" width="3" height="1" fill="#000"/>
<rect x="499" y="225" width="1" height="7" fill="#000"/>
<rect x="498" y="227" width="3" height="4" fill="#000"/>
<rect x="499" y="228" width="1" height="2" fill="#fff"/>
<rect x="503" y="221" width="1" height="7" fill="#000"/>
<rect x="502" y="222" width="3" height="1" fill="#000"/>
<rect x="507" y="220" width="1" height="4" fill="#000"/>
<rect x="506" y="220" width="3" height="1" fill="#000"/>
<rect x="511" y="216" width="1" height="3" fill="#000"/>
<rect x="510" y="217" width="3" height="2" fill="#000"/>
<rect x="515" y="202" width="1" height="11" fill="#000"/>
<rect x="514" y="203" width="3" height="8" fill="#000"/>
<rect x="519" y="200" width="1" height="6" fill="#000"/>
<rect x="518" y="201" width="3" height="3" fill="#000"/>
<rect x="519" y="202" width="1" height="1" fill="#fff"/>
<rect x="523" y="190" width="1" height="7" fill="#000"/>
<rect x="522" y="191" width="3" height="4" fill="#000"/>
<rect x="523" y="192" width="1" height="2" fill="#fff"/>
<rect x="527" y="199" width="1" height="11" fill="#000"/>
<rect x="526" y="199" width="3" height="6" fill="#000"/>
<rect x="531" y="199" width="1" height="7" fill="#000"/>
<rect x="530" y="200" width="3" height="3" fill="#000"/>
<rect x="535" y="199" width="1" height="6" fill="#000"/>
<rect x="534" y="200" width="3" height="2" fill="#000"/>
<rect x="539" y="196" width="1" height="7" fill="#000"/>
<rect x="538" y="198" width="3" height="2" fill="#000"/>
<rect x="543" y="196" width="1" height="5" fill="#000"/>
<rect x="542" y="198" width="3" height="2" fill="#000"/>
<rect x="547" y="198" width="1" height="5" fill="#000"/>
<rect x="546" y="199" width="3" height="2" fill="#000"/>
<rect x="551" y="195" width="1" height="8" fill="#000"/>
<rect x="550" y="195" width="3" height="7" fill="#000"/>
<rect x="555" y="195" width="1" height="4" fill="#000"/>
<rect x="554" y="196" width="3" height="1" fill="#000"/>
<rect x="559" y="175" width="1" height="17" fill="#000"/>
<rect x="558" y="177" width="3" height="15" fill="#000"/>
<rect x="559" y="178" width="1" height="13" fill="#fff"/>
<rect x="563" y="171" width="1" height="8" fill="#000"/>
<rect x="562" y="171" width="3" height="4" fill="#000"/>
<rect x="563" y="172" width="1" height="2" fill="#fff"/>
<rect x="567" y="159" width="1" height="13" fill="#000"/>
<rect x="566" y="162" width="3" height="9" fill="#000"/>
<rect x="567" y="163" width="1" height="7" fill="#fff"/>
<rect x="571" y="144" width="1" height="10" fill="#000"/>
<rect x="570" y="148" width="3" height="3" fill="#000"/>
<rect x="575" y="137" width="1" height="16" fill="#000"/>
<rect x="574" y="138" width="3" height="12" fill="#000"/>
<rect x="579" y="138" width="1" height="10" fill="#000"/>
<rect x="578" y="139" width="3" height="4" fill="#000"/>
<rect x="579" y="140" width="1" height="2" fill="#fff"/>
<rect x="583" y="111" width="1" height="11" fill="#000"/>
<rect x="582" y="115" width="3" height="4" fill="#000"/>
<rect x="583" y="116" width="1" height="2" fill="#fff"/>
<rect x="587" y="86" width="1" height="13" fill="#000"/>
<rect x="586" y="87" width="3" height="8" fill="#000"/>
<rect x="587" y="88" width="1" height="6" fill="#fff"/>
<rect x="591" y="64" width="1" height="29" fill="#000"/>
<rect x="590" y="65" width="3" height="28" fill="#000"/>
<rect x="595" y="46" width="1" height="21" fill="#000"/>
<rect x="594" y="51" width="3" height="10" fill="#000"/>
<rect x="595" y="52" width="1" height="8" fill="#fff"/>
<rect x="599" y="67" width="1" height="34" fill="#000"/>
<rect x="598" y="75" width="3" height="26" fill="#000"/>
<rect x="603" y="83" width="1" height="22" fill="#000"/>
<rect x="602" y="91" width="3" height="4" fill="#000"/>
<rect x="603" y="92" width="1" height="2" fill="#fff"/>
<rect x="607" y="113" width="1" height="24" fill="#000"/>
<rect x="606" y="114" width="3" height="22" fill="#000"/>
<rect x="607" y="115" width="1" height="20" fill="#fff"/>
<rect x="611" y="97" width="1" height="12" fill="#000"/>
<rect x="610" y="100" width="3" height="9" fill="#000"/>
<rect x="611" y="101" width="1" height="7" fill="#fff"/>
<rect x="615" y="73" width="1" height="21" fill="#000"/>
<rect x="614" y="74" width="3" height="13" fill="#000"/>
<rect x="615" y="75" width="1" height="11" fill="#fff"/>
<rect x="619" y="51" width="1" height="23" fill="#000"/>
<rect x="618" y="51" width="3" height="18" fill="#000"/>
<rect x="619" y="52" width="1" height="16" fill="#fff"/>
<rect x="623" y="60" width="1" height="16" fill="#000"/>
<rect x="622" y="67" width="3" height="7" fill="#000"/>
<rect x="627" y="85" width="1" height="12" fill="#000"/>
<rect x="626" y="87" width="3" height="4" fill="#000"/>
<rect x="627" y="88" width="1" height="2" fill="#fff"/>
</g>
<polyline points="3,332 10,329.4 20,326.6 30,324.8 40,322.6 48,321 54,318 60,313.6 68,309 76,305 84,300 92,296 100,292 108,287 116,283 124,279 132,275.4 138,273 146,271.4 154,269 162,266.6 170,262.4 178,258.6 184,257 194,256.6 202,257 210,258 220,258.6 230,259 242,259.4 254,260 262,261.4 280,261.6 290,260.2 296,259 306,257.8 316,256.6 328,255.6 340,255 356,254.6 362,252 368,250 374,245 382,241 390,237 398,233 406,228 414,224 422,220.6 428,218 432,215.6 442,215.6 450,215.4 470,215.2 490,215 504,214 512,214.5 518,215.2 524,215.8 530,216.4 534,216.9 542,217.1 546.4,216.7 551.6,215.9 555,214.6 558,213 568,210.6 578,209.4 586,208 594,205 600,201 606,195 612,189 618,181 620.6,173.7 623.4,167.4 626,160.5 629,156 633,150.6 636,148.5 640,146 646,140 651,133.6" fill="none" stroke="#0000ff" stroke-width="2" stroke-linejoin="round" shape-rendering="crispEdges"/>
<polyline points="3,325 10,322.8 20,320 30,319.5 34,317.4 38,315 44,310 52,303.6 60,298 68,293.6 76,288 84,284.4 92,280 100,275 108,271 116,267 124,264 132,262.6 138,262.4 146,260 154,257 162,253.6 170,251 178,249.6 186,249.4 192,250 196,252 200,255 206,256.6 212,258 218,259 224,260.6 230,261.6 242,261.6 254,262 272,262 278,261 286,258.4 294,256.4 302,255.4 312,254.4 326,253.6 340,252.4 348,251 352,249 358,244 364,238.4 372,233 380,228 388,223 396,217 398,216 406,213 414,209.6 420,207 423,207.2 428,209 432,210.4 437,210.6 444,210 456.5,209.6 462,211 468,212.6 476,213.2 490,213.6 502,214 506,215.2 511,216.1 517,217.2 521,218.5 526,219.2 529,219 531.4,217.8 535.7,216.7 539,215 542,213.1 544,211.8 548,211 552,210 556,209 560,207.6 568,206 575,204.4 580,201 586,196 590,191 596,184 601,177 604,169 608,158 612,147 614,140.5 616.5,135 618.8,131.6 622.4,126.8 626,125.6 629.6,125.2 633.2,120.8 638,114 642,108 647,104.6" fill="none" stroke="#ff0000" stroke-width="2" stroke-linejoin="round" shape-rendering="crispEdges"/>
<polyline points="3,318 12,317.5 23,317.5 27,316 30,313.4 33,309 36,305 40,301 48,293 56,288 66,282 70,279.5 76,277.5 83,275.5 86,271.5 89,268.5 92,267 99,265.5 103,263 108,260.5 112,258.5 120,258 126,257.5 135,257 140,256.6 146,255 152,250 157,247 161,245.9 164.4,245.5 168,246.2 171,247.2 178,248.2 182.4,248.8 187.6,253.6 191.4,257.4 197.8,258.8 204.3,261.4 212,262.7 220,263 234,263 250,263 260,261.5 268,261.6 274,261 278,258 284,255 292,254 304,253 320,252 334,251.6 340,249 346,244 350,239 354,233 360,228 368,223 376,218 382,214 388,209.6 394,208 398,205.6 406,202.4 410,201.6 415,203 419.5,206.4 423.5,208.4 430.8,208.2 436,208.6 446,209.4 456,210 460,211.6 466,214.4 474,214.8 490,214.8 498,216 502,217 505,217.9 509,219 512,220.4 515,220.9 519,220.8 522,219.8 526.5,218.3 529,216 531.4,213.3 535,210 539,209 544,207 552,204.4 560,203 567,201.4 572,197 578,189 582,181.6 586,175 592,165 596,154 600,142 603,130 605,122 606.8,116 608.5,112 610.4,108.6 613,107 615.2,106.6 618,108 620,108.8 623.6,108.8 625.5,107 627.2,104.6 629,101 630.8,96.8 632.5,93 634.4,90 639.8,90" fill="none" stroke="#00ff00" stroke-width="2" stroke-linejoin="round" shape-rendering="crispEdges"/>
</g>
<ellipse cx="627" cy="437.5" rx="5" ry="34.5" fill="rgb(255,100,0)" fill-opacity="0.5"/>
<polygon points="0,262.6 698.7,133 698.7,192.8 0,321.9" fill="rgb(0,140,255)" fill-opacity="0.36"/>
<rect x="3" y="15" width="651" height="52" fill="rgb(1,125,15)" fill-opacity="0.5" shape-rendering="crispEdges"/>
<rect x="2" y="116" width="653" height="59" fill="rgb(255,0,0)" fill-opacity="0.37" shape-rendering="crispEdges"/>
<g clip-path="url(#cm)"><ellipse cx="644.9" cy="109.9" rx="5" ry="23.9" transform="rotate(-14.8 644.9 109.9)" fill="rgb(255,100,0)" fill-opacity="0.5"/></g>
<g clip-path="url(#cm)">
<line x1="633.6" y1="61.8" x2="648.6" y2="27.6" stroke="#008000" stroke-width="2.1" stroke-dasharray="4.6 2.65"/>
<path d="M652.3 17.2L643.6 25.2L653 29z" fill="#008000"/>
<line x1="627.2" y1="119.6" x2="647" y2="163.5" stroke="#ff0000" stroke-width="2.2" stroke-dasharray="8 3.7"/>
<path d="M651.8 171.4L643 164.6L651.8 160.8z" fill="#ff0000"/>
</g>
</svg>
</body></html>
